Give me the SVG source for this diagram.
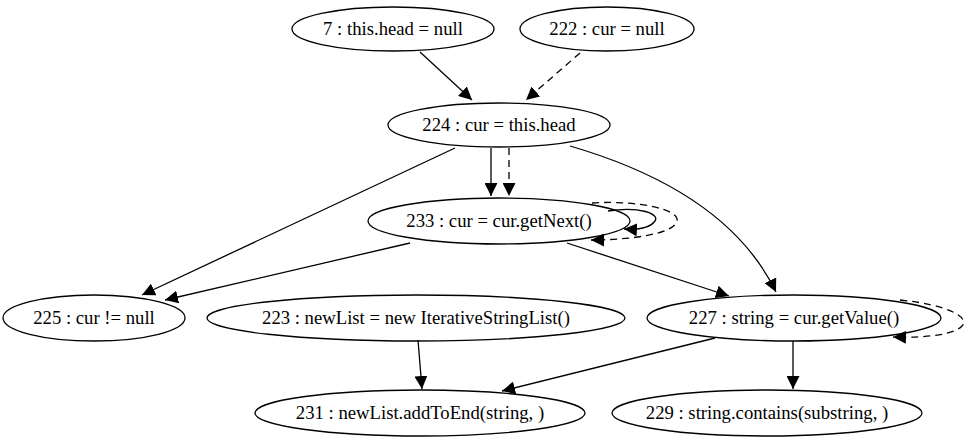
<svg xmlns="http://www.w3.org/2000/svg" width="970" height="443" viewBox="0 0 970 443">
<defs>
<marker id="ah" viewBox="0 0 10 10" refX="10" refY="5" markerWidth="13" markerHeight="13" markerUnits="userSpaceOnUse" orient="auto">
<path d="M0,0 L10,5 L0,10 Z" fill="#000"/>
</marker>
</defs>
<style>
.n ellipse{fill:none;stroke:#000;stroke-width:1.3}
.n text{font-family:"Liberation Serif","Times New Roman",serif;font-size:18.7px;text-anchor:middle;fill:#000}
.e path{fill:none;stroke:#000;stroke-width:1.3;marker-end:url(#ah)}
.e path.d{stroke-dasharray:7,5}
</style>
<rect width="970" height="443" fill="#fff"/>
<g id="edges" class="e">
<path d="M420,52 L472,100"/>
<path class="d" d="M580,53 L526,100"/>
<path d="M491,148 L491,196"/>
<path class="d" d="M509,148 L509,196"/>
<path d="M455,148 L142,295"/>
<path d="M410,243 L165,300"/>
<path d="M567,243 L729,296"/>
<path d="M570,146 C680,178 745,228 776,292"/>
<path d="M608,211 C640,206 660,214 655,221 C650,228 640,230 624,229"/>
<path class="d" d="M592,203 C640,200 680,210 677,221 C674,234 630,240 591,240"/>
<path class="d" d="M900,300 C950,305 970,318 962,326 C955,334 930,338 893,337"/>
<path d="M418,340 L422,389"/>
<path d="M715,338 L502,391"/>
<path d="M793,341 L793,389"/>
</g>
<g id="n7" class="n"><ellipse cx="393" cy="29" rx="101" ry="22"/><text x="393" y="35">7 : this.head = null</text></g>
<g id="n222" class="n"><ellipse cx="607" cy="29" rx="87" ry="22"/><text x="607" y="35">222 : cur = null</text></g>
<g id="n224" class="n"><ellipse cx="499" cy="125" rx="111" ry="22"/><text x="499" y="131">224 : cur = this.head</text></g>
<g id="n233" class="n"><ellipse cx="499" cy="221" rx="131" ry="23"/><text x="499" y="227">233 : cur = cur.getNext()</text></g>
<g id="n225" class="n"><ellipse cx="94" cy="318" rx="91" ry="23"/><text x="94" y="324">225 : cur != null</text></g>
<g id="n223" class="n"><ellipse cx="416" cy="318" rx="209" ry="23"/><text x="416" y="324">223 : newList = new IterativeStringList()</text></g>
<g id="n227" class="n"><ellipse cx="794" cy="318" rx="147" ry="23"/><text x="794" y="324">227 : string = cur.getValue()</text></g>
<g id="n231" class="n"><ellipse cx="420" cy="413" rx="165" ry="23"/><text x="420" y="419">231 : newList.addToEnd(string, )</text></g>
<g id="n229" class="n"><ellipse cx="767" cy="413" rx="155" ry="23"/><text x="767" y="419">229 : string.contains(substring, )</text></g>
</svg>
